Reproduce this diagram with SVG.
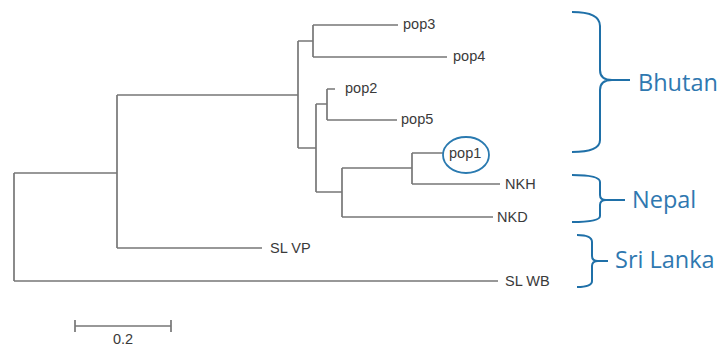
<svg xmlns="http://www.w3.org/2000/svg" width="723" height="348" viewBox="0 0 723 348">
<style>
.e{fill:none;stroke:#777;stroke-width:1.7}
.lb{font-family:"Liberation Sans",Arial,sans-serif;font-size:14.5px;fill:#3a3a3a}
.br{fill:none;stroke:#1f70a8;stroke-width:2}
.gl{font-family:"Open Sans","DejaVu Sans",sans-serif;font-size:23.5px;fill:#2f78b0}
</style>
<rect width="723" height="348" fill="#fff"/>
<g id="connectors">
<path class="e" d="M14,173V281M14,173H117M14,281H498"/>
<path class="e" d="M117,95V248M117,95H298M117,248H262"/>
<path class="e" d="M298,41V148M298,41H313M298,148H316"/>
<path class="e" d="M313,25V57M313,25H398M313,57H447"/>
<path class="e" d="M316,104V192M316,104H327M316,192H342"/>
<path class="e" d="M327,89V120M327,89H335M327,120H397"/>
<path class="e" d="M342,168V217M342,168H412M342,217H493"/>
<path class="e" d="M412,153V184M412,153H443M412,184H500"/>
</g>
<g id="pop3"><text class="lb" x="403" y="29">pop3</text></g>
<g id="pop4"><text class="lb" x="453" y="61">pop4</text></g>
<g id="pop2"><text class="lb" x="345" y="93">pop2</text></g>
<g id="pop5"><text class="lb" x="401" y="124">pop5</text></g>
<g id="pop1">
<ellipse cx="466" cy="155" rx="23" ry="18" fill="none" stroke="#2a7ab0" stroke-width="1.8"/>
<text class="lb" x="449" y="158">pop1</text>
</g>
<g id="NKH"><text class="lb" x="505" y="189">NKH</text></g>
<g id="NKD"><text class="lb" x="497" y="222">NKD</text></g>
<g id="SLVP"><text class="lb" x="270" y="253">SL VP</text></g>
<g id="SLWB"><text class="lb" x="505" y="286">SL WB</text></g>
<g id="bhutan">
<path class="br" d="M572,12Q600,12 600,26L600,70Q600,80 612,80Q600,80 600,90L600,140Q600,152 572,152M612,80H630"/>
<text class="gl" x="638" y="91">Bhutan</text>
</g>
<g id="nepal">
<path class="br" d="M572,175Q600,175 600,182L600,195Q600,200 606,200Q600,200 600,205L600,216Q600,222 572,222M606,200H625"/>
<text class="gl" x="632" y="208">Nepal</text>
</g>
<g id="srilanka">
<path class="br" d="M577,235Q592,235 592,242L592,256Q592,261 598,261Q592,261 592,266L592,281Q592,287 577,287M598,261H608"/>
<text class="gl" x="615" y="268">Sri Lanka</text>
</g>
<g id="scale">
<path class="e" d="M75,326H171M75,320V332M171,320V332" stroke="#555"/>
<text class="lb" x="123" y="344" text-anchor="middle" font-size="13">0.2</text>
</g>
</svg>
